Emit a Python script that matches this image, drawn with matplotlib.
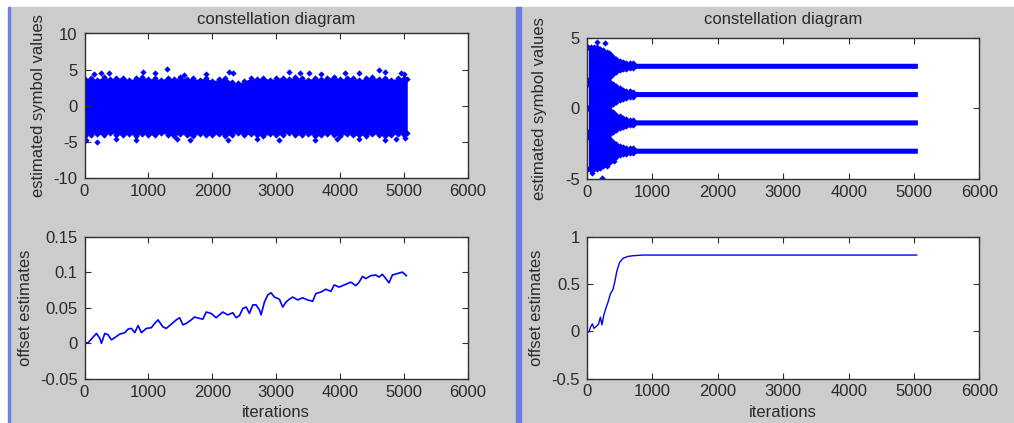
import matplotlib
matplotlib.use("Agg")
import matplotlib.pyplot as plt
from matplotlib.patches import Rectangle

plt.rcParams['font.family'] = ['Liberation Sans', 'DejaVu Sans']
plt.rcParams['axes.unicode_minus'] = False

# ---------------- data ----------------
iter_ticks = [0, 1000, 2000, 3000, 4000, 5000, 6000]
iter_tick_labels = ['0', '1000', '2000', '3000', '4000', '5000', '6000']

# left constellation: envelope of the dense symbol cloud (every 100 iterations)
cloud_iter = list(range(0, 5001, 100)) + [5050]
cloud_hi = [3.7, 3.9, 3.6, 4.0, 3.7, 3.8, 3.9, 3.6, 3.8, 4.0, 3.7,
            3.8, 3.6, 3.9, 3.7, 4.0, 3.7, 3.8, 3.6, 3.9, 3.4,
            3.7, 3.9, 3.3, 3.1, 3.4, 3.8, 3.7, 3.9, 3.6, 3.8,
            3.9, 3.7, 4.0, 3.8, 3.6, 3.9, 3.7, 3.8, 4.0, 3.7,
            3.8, 3.9, 3.6, 3.8, 4.0, 3.7, 3.9, 3.6, 3.8, 3.9,
            3.7]
cloud_lo = [-4.2, -4.0, -3.9, -4.1, -3.8, -4.0, -4.1, -3.9, -4.2, -3.9, -4.0,
            -4.1, -3.8, -4.0, -4.2, -3.9, -4.1, -4.2, -3.9, -4.0, -4.1,
            -3.9, -4.2, -4.0, -3.8, -4.1, -3.9, -4.0, -4.2, -3.9, -4.1,
            -4.0, -3.8, -4.1, -4.0, -3.9, -4.2, -4.1, -3.9, -4.0, -4.2,
            -3.9, -4.1, -4.0, -4.2, -3.9, -4.0, -4.2, -4.1, -3.9, -4.0,
            -3.8]
cloud_out_x = [150, 260, 390, 920, 1100, 1290, 1550, 1900, 2260, 2330, 3200, 3370,
               3520, 3700, 4080, 4300, 4610, 4700, 4950, 5000,
               30, 200, 500, 800, 1450, 1650, 2250, 2700, 3050, 3600, 3950,
               4300, 4700, 4880, 5020]
cloud_out_y = [4.4, 4.6, 4.5, 4.7, 4.5, 5.1, 4.3, 4.4, 4.7, 4.6, 4.7, 4.5,
               4.6, 4.4, 4.5, 4.6, 5.0, 4.7, 4.6, 4.4,
               -4.7, -5.0, -4.6, -4.7, -4.6, -4.7, -4.8, -4.6, -4.7, -4.7, -4.6,
               -4.6, -4.8, -4.6, -4.5]

# right constellation: four symbol levels with a converging spread
levels = [3, 1, -1, -3]
trans_iter = [20, 60, 100, 150, 200, 250, 300, 350, 400, 450, 500, 550, 600, 650, 700, 5050]
spread_outer = [1.3, 1.35, 1.3, 1.3, 1.2, 1.1, 0.95, 0.8, 0.6, 0.45, 0.33, 0.25, 0.2, 0.18, 0.18, 0.18]
spread_inner = [1.0, 1.05, 1.0, 1.0, 1.0, 1.0, 0.95, 0.85, 0.7, 0.55, 0.42, 0.32, 0.25, 0.2, 0.18, 0.18]
conv_out_x = [0, 60, 100, 153, 280, 330, 380, 81, 230, 300, 420]
conv_out_y = [0.0, 4.1, 4.2, 4.69, 4.62, 3.9, 3.6, -4.58, -4.93, -4.1, -3.7]

# offset estimates, left run
off1_x = [0, 57, 187, 240, 265, 317, 369, 421, 473, 551, 630, 681, 734, 786, 838, 890,
          968, 1046, 1098, 1150, 1228, 1280, 1358, 1436, 1488, 1540, 1592, 1670, 1722,
          1800, 1852, 1904, 1982, 2060, 2112, 2164, 2242, 2320, 2373, 2425, 2477, 2529,
          2581, 2633, 2685, 2737, 2763, 2815, 2867, 2919, 2971, 3049, 3101, 3153, 3205,
          3257, 3335, 3413, 3491, 3569, 3621, 3699, 3777, 3855, 3907, 3985, 4063, 4167,
          4245, 4297, 4349, 4401, 4479, 4557, 4609, 4661, 4713, 4765, 4817, 4895, 4973,
          4999, 5035]
off1_y = [0.000, 0.001, 0.014, 0.007, 0.000, 0.014, 0.012, 0.005, 0.008, 0.013, 0.015,
          0.020, 0.021, 0.015, 0.025, 0.015, 0.021, 0.022, 0.028, 0.033, 0.023, 0.021,
          0.027, 0.033, 0.036, 0.026, 0.028, 0.033, 0.037, 0.035, 0.034, 0.044, 0.042,
          0.036, 0.040, 0.044, 0.040, 0.043, 0.036, 0.039, 0.049, 0.051, 0.042, 0.054,
          0.054, 0.047, 0.040, 0.058, 0.068, 0.071, 0.065, 0.062, 0.051, 0.058, 0.062,
          0.065, 0.061, 0.064, 0.061, 0.059, 0.070, 0.072, 0.076, 0.073, 0.082, 0.079,
          0.082, 0.086, 0.081, 0.086, 0.094, 0.091, 0.095, 0.096, 0.093, 0.097, 0.091,
          0.085, 0.096, 0.098, 0.100, 0.098, 0.095]

# offset estimates, right run
off2_x = [0, 31, 51, 82, 107, 143, 178, 204, 229, 255, 285, 321, 357, 397, 423, 458,
          499, 550, 627, 703, 856, 5040]
off2_y = [0.0, -0.01, 0.04, 0.077, 0.03, 0.05, 0.077, 0.148, 0.067, 0.165, 0.235,
          0.306, 0.393, 0.44, 0.516, 0.64, 0.727, 0.769, 0.79, 0.797, 0.804, 0.804]

# ---------------- figure ----------------
W, H = 1014, 423
fig = plt.figure(figsize=(W / 100, H / 100), dpi=100, facecolor='white')

def frac_rect(l, t, r, b):
    return [l / W, 1 - b / H, (r - l) / W, (b - t) / H]

gray = '#cccccc'
edge_blue = '#6a7fe0'
fig.patches.append(Rectangle((10 / W, 0), 1 - 10 / W, 1 - 7 / H,
                             transform=fig.transFigure, color=gray, zorder=-10))
fig.patches.append(Rectangle((7.5 / W, 0), 2.8 / W, 1 - 7 / H,
                             transform=fig.transFigure, color=edge_blue, zorder=-9))
fig.patches.append(Rectangle((516 / W, 0), 4.5 / W, 1 - 7 / H,
                             transform=fig.transFigure, color=edge_blue, zorder=-9))

ax_tl = fig.add_axes(frac_rect(84.5, 33.5, 468, 178))
ax_bl = fig.add_axes(frac_rect(84.5, 236.5, 468, 379))
ax_tr = fig.add_axes(frac_rect(587, 37.5, 979.5, 179))
ax_br = fig.add_axes(frac_rect(587, 236.5, 979.5, 378.5))

txt = '#2a2a2a'
frame = '#303030'
fs = 12

def style(ax, yticks, ylabels):
    ax.set_xlim(0, 6000)
    ax.set_xticks(iter_ticks)
    ax.set_xticklabels(iter_tick_labels)
    ax.set_ylim(yticks[0], yticks[-1])
    ax.set_yticks(yticks)
    ax.set_yticklabels(ylabels)
    ax.tick_params(direction='in', length=4, width=0.8, top=True, right=True,
                   labelsize=fs, labelcolor=txt, color=frame)
    ax.tick_params(axis='x', pad=4.0)
    ax.tick_params(axis='y', pad=5.0)
    for s in ax.spines.values():
        s.set_color(frame)
        s.set_linewidth(1.0)
    ax.set_facecolor('white')

blue = '#0000ff'
mk = dict(marker='D', ms=3.2, color=blue, mec=blue, mew=0, ls='none')

# top-left constellation
ax_tl.fill_between(cloud_iter, cloud_lo, cloud_hi, color=blue, lw=0)
ax_tl.plot(cloud_iter, cloud_hi, **mk)
ax_tl.plot(cloud_iter, cloud_lo, **mk)
ax_tl.plot(cloud_out_x, cloud_out_y, **mk)
style(ax_tl, [-10, -5, 0, 5, 10], ['-10', '-5', '0', '5', '10'])
ax_tl.set_title('constellation diagram', fontsize=fs, color=txt, pad=7.0)
ax_tl.set_ylabel('estimated symbol values', fontsize=fs, color=txt)
ax_tl.yaxis.set_label_coords((46 - 84.5) / 383.5, 0.5)

# top-right constellation
for lev in levels:
    sp = spread_outer if abs(lev) == 3 else spread_inner
    lo = [lev - s for s in sp]
    hi = [lev + s for s in sp]
    ax_tr.fill_between(trans_iter, lo, hi, color=blue, lw=0)
    ax_tr.plot(trans_iter[:-1], hi[:-1], **mk)
    ax_tr.plot(trans_iter[:-1], lo[:-1], **mk)
ax_tr.plot(conv_out_x, conv_out_y, **mk)
style(ax_tr, [-5, 0, 5], ['-5', '0', '5'])
ax_tr.set_title('constellation diagram', fontsize=fs, color=txt, pad=9.5)
ax_tr.set_ylabel('estimated symbol values', fontsize=fs, color=txt)
ax_tr.yaxis.set_label_coords((547 - 587) / 392.5, 0.5)

# bottom-left offset estimates
ax_bl.plot(off1_x, off1_y, color=blue, lw=1.2)
style(ax_bl, [-0.05, 0, 0.05, 0.1, 0.15], ['-0.05', '0', '0.05', '0.1', '0.15'])
ax_bl.set_ylabel('offset estimates', fontsize=fs, color=txt)
ax_bl.yaxis.set_label_coords((33 - 84.5) / 383.5, 0.5)
ax_bl.set_xlabel('iterations', fontsize=fs, color=txt)
ax_bl.xaxis.set_label_coords(0.5, (379 - 405) / 142.5)

# bottom-right offset estimates
ax_br.plot(off2_x, off2_y, color=blue, lw=1.0)
style(ax_br, [-0.5, 0, 0.5, 1], ['-0.5', '0', '0.5', '1'])
ax_br.set_ylabel('offset estimates', fontsize=fs, color=txt)
ax_br.yaxis.set_label_coords((544 - 587) / 392.5, 0.5)
ax_br.set_xlabel('iterations', fontsize=fs, color=txt)
ax_br.xaxis.set_label_coords(0.5, (378.5 - 405) / 142)

fig.savefig('out.png', dpi=100, facecolor=fig.get_facecolor())
